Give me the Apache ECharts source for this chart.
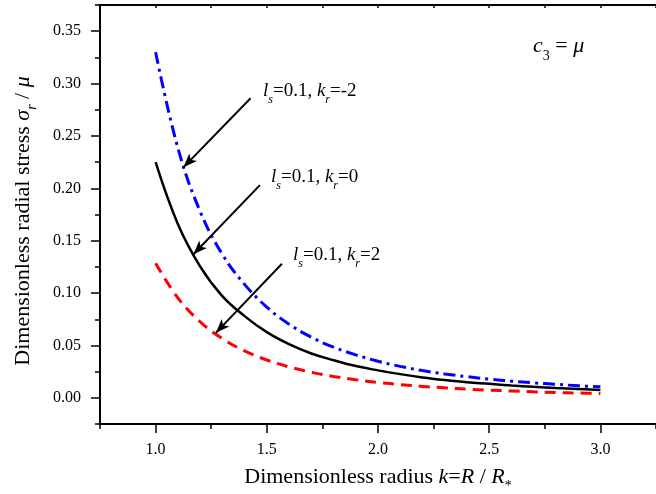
<!DOCTYPE html>
<html>
<head>
<meta charset="utf-8">
<script src="https://cdn.jsdelivr.net/npm/echarts@6/dist/echarts.min.js"></script>
<style>
  html, body { margin: 0; padding: 0; background: #fff; }
  #chart { width: 656px; height: 494px; }
</style>
</head>
<body>
<div id="chart"></div>
<script>
// k = R / R*
var kValues = [1.0, 1.1, 1.2, 1.3, 1.4, 1.5, 1.6, 1.7, 1.8, 1.9, 2.0,
               2.1, 2.2, 2.3, 2.4, 2.5, 2.6, 2.7, 2.8, 2.9, 3.0];
// ls=0.1, kr=-2 (blue dash-dot)
var stressKrM2 = [0.330, 0.2386, 0.178, 0.137, 0.1083, 0.0866, 0.0703, 0.0579, 0.0483, 0.041, 0.0349,
                  0.030, 0.026, 0.0228, 0.0202, 0.0179, 0.0159, 0.0143, 0.0129, 0.0115, 0.0105];
// ls=0.1, kr=0 (black solid)
var stressKr0 = [0.225, 0.166, 0.1255, 0.0971, 0.078, 0.0627, 0.0512, 0.0423, 0.0359, 0.0303, 0.0262,
                 0.0226, 0.0195, 0.0170, 0.0149, 0.0134, 0.0118, 0.0105, 0.0094, 0.0085, 0.0075];
// ls=0.1, kr=2 (red dash)
var stressKr2 = [0.1285, 0.0954, 0.0726, 0.0565, 0.0448, 0.0361, 0.0295, 0.0244, 0.0204, 0.0172, 0.0147,
                 0.0126, 0.0109, 0.0095, 0.0083, 0.0073, 0.0065, 0.0057, 0.0051, 0.0046, 0.0042];

var xMajorTicks = [1.0, 1.5, 2.0, 2.5, 3.0];
var xMinorTicks = [0.75, 1.25, 1.75, 2.25, 2.75, 3.25];
var yMajorTicks = [0, 0.05, 0.10, 0.15, 0.20, 0.25, 0.30, 0.35];
var yMinorTicks = [-0.025, 0.025, 0.075, 0.125, 0.175, 0.225, 0.275, 0.325, 0.375];

var FONT = "'Liberation Serif', 'DejaVu Serif', serif";

function pairs(ys) {
  return kValues.map(function (k, i) { return [k, ys[i]]; });
}

// rich styles: main text sits at the top of a tall line, subscripts in its middle
function richStyles(size, drop) {
  var L = size + 2 * drop;
  var subSize = Math.round(size * 0.62);
  return {
    n: { fontFamily: FONT, fontSize: size, verticalAlign: 'top', fill: '#000' },
    i: { fontFamily: FONT, fontSize: size, fontStyle: 'italic', verticalAlign: 'top', fill: '#000' },
    sub: { fontFamily: FONT, fontSize: subSize, fontStyle: 'italic', lineHeight: L,
           verticalAlign: 'middle', fill: '#000' },
    subn: { fontFamily: FONT, fontSize: subSize, lineHeight: L,
           verticalAlign: 'middle', fill: '#000' }
  };
}

// x, cy: left edge and vertical centre of the main text
function label(x, cy, text, size, drop) {
  return {
    type: 'text', x: x, y: cy - size / 2, silent: true,
    style: {
      text: text, rich: richStyles(size, drop), fontFamily: FONT, fontSize: size,
      align: 'left', verticalAlign: 'top', fill: '#000'
    }
  };
}

var myChart = echarts.init(document.getElementById('chart'));

var arrowLine = { color: '#000', width: 2, type: 'solid' };

myChart.setOption({
  animation: false,
  backgroundColor: '#fff',
  grid: { left: 100, top: 5, width: 565, height: 419 },
  xAxis: [
    {
      type: 'value', min: 0.75, max: 3.25, interval: 0.25,
      axisLine: { onZero: false, lineStyle: { color: '#000', width: 2 } },
      axisTick: { customValues: xMajorTicks, length: 9, lineStyle: { color: '#000', width: 1.5 } },
      axisLabel: { customValues: xMajorTicks, margin: 18, color: '#000', fontFamily: FONT, fontSize: 16,
        formatter: function (v) { return v.toFixed(1); } },
      splitLine: { show: false }
    },
    {
      type: 'value', min: 0.75, max: 3.25, interval: 0.25, position: 'bottom',
      axisLine: { show: false, onZero: false },
      axisTick: { customValues: xMinorTicks, length: 5, lineStyle: { color: '#000', width: 1.5 } },
      axisLabel: { show: false }, splitLine: { show: false }
    },
    {
      type: 'value', min: 0.75, max: 3.25, interval: 0.25, position: 'top',
      axisLine: { onZero: false, lineStyle: { color: '#000', width: 2 } },
      axisTick: { inside: true, length: 3, lineStyle: { color: '#000', width: 1.5 } },
      axisLabel: { show: false }, splitLine: { show: false }
    }
  ],
  yAxis: [
    {
      type: 'value', min: -0.025, max: 0.375, interval: 0.025,
      axisLine: { show: true, onZero: false, lineStyle: { color: '#000', width: 2 } },
      axisTick: { show: true, customValues: yMajorTicks, length: 9, lineStyle: { color: '#000', width: 1.5 } },
      axisLabel: { customValues: yMajorTicks, margin: 19, color: '#000', fontFamily: FONT, fontSize: 16,
        formatter: function (v) { return v.toFixed(2); } },
      splitLine: { show: false }
    },
    {
      type: 'value', min: -0.025, max: 0.375, interval: 0.025, position: 'left',
      axisLine: { show: false, onZero: false },
      axisTick: { show: true, customValues: yMinorTicks, length: 5, lineStyle: { color: '#000', width: 1.5 } },
      axisLabel: { show: false }, splitLine: { show: false }
    }
  ],
  series: [
    {
      name: 'kr=-2', type: 'line', data: pairs(stressKrM2), showSymbol: false, symbol: 'none',
      smooth: 0.4,
      lineStyle: { color: '#0000ff', width: 3, type: [12, 5, 3, 5] }
    },
    {
      name: 'kr=2', type: 'line', data: pairs(stressKr2), showSymbol: false, symbol: 'none',
      smooth: 0.4,
      lineStyle: { color: '#ff0000', width: 3, type: [11, 7] }
    },
    {
      name: 'kr=0', type: 'line', data: pairs(stressKr0), showSymbol: false, symbol: 'none',
      smooth: 0.4,
      lineStyle: { color: '#000', width: 2.5, type: 'solid' },
      markLine: {
        silent: true, symbol: ['none', 'arrow'], symbolSize: [8, 14],
        label: { show: false }, lineStyle: arrowLine, emphasis: { disabled: true },
        data: [
          [{ coord: [1.427, 0.286] }, { coord: [1.125, 0.220] }],
          [{ coord: [1.469, 0.203] }, { coord: [1.170, 0.137] }],
          [{ coord: [1.568, 0.128] }, { coord: [1.271, 0.062] }]
        ]
      }
    }
  ],
  graphic: [
    label(263, 91, '{i|l}{sub|s}{n|=0.1, }{i|k}{sub|r}{n|=-2}', 19, 9),
    label(271, 177, '{i|l}{sub|s}{n|=0.1, }{i|k}{sub|r}{n|=0}', 19, 9),
    label(293, 255, '{i|l}{sub|s}{n|=0.1, }{i|k}{sub|r}{n|=2}', 19, 9),
    label(533, 46, '{i|c}{subn|3}{n| = }{i|μ}', 22, 10),
    {
      type: 'text', x: 378, y: 477 - 11, silent: true,
      style: {
        text: '{n|Dimensionless radius }{i|k}{n|=}{i|R}{n| / }{i|R}{subn|*}',
        rich: richStyles(22, 9), fontFamily: FONT, fontSize: 22,
        align: 'center', verticalAlign: 'top', fill: '#000'
      }
    },
    {
      type: 'text', x: 23 - 11, y: 221, rotation: Math.PI / 2, silent: true,
      style: {
        text: '{n|Dimensionless radial stress }{i|σ}{sub|r}{n| / }{i|μ}',
        rich: richStyles(22, 9), fontFamily: FONT, fontSize: 22,
        align: 'center', verticalAlign: 'top', fill: '#000'
      }
    }
  ]
});
</script>
</body>
</html>
